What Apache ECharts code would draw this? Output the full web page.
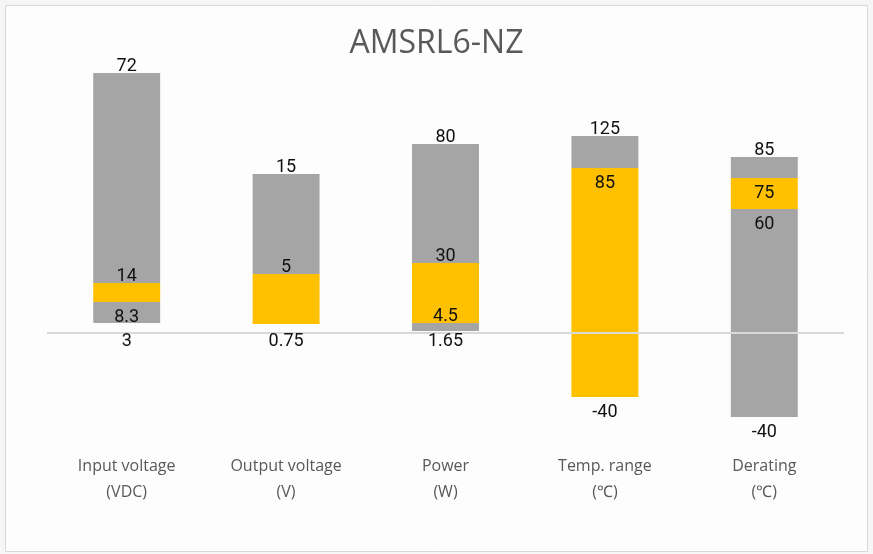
<!DOCTYPE html>
<html>
<head>
<meta charset="utf-8">
<style>
  html, body { margin: 0; padding: 0; background: #f6f6f6; }
  #chart { width: 873px; height: 554px; }
</style>
<script src="https://cdn.jsdelivr.net/npm/echarts@6/dist/echarts.min.js"></script>
</head>
<body>
<div id="chart"></div>
<script>
// categories (two-line axis labels)
const categories = ['Input voltage\n(VDC)', 'Output voltage\n(V)', 'Power\n(W)', 'Temp. range\n(\u2103)', 'Derating\n(\u2103)'];

// plotted bar boundaries (chart units, 0 = baseline), bottom to top
const inputLevels = [10, 31, 50, 260];
const outputLevels = [9, 59, 159];
const powerLevels = [2, 10, 70, 189];
const tempLevels = [-64, 165, 197];
const deratingLevels = [-84, 124, 155, 176];

// segment colours between boundaries: g = gray, y = yellow
const inputSegs = ['g', 'y', 'g'];
const outputSegs = ['y', 'g'];
const powerSegs = ['g', 'y', 'g'];
const tempSegs = ['y', 'g'];
const deratingSegs = ['g', 'y', 'g'];

// values printed at each boundary
const inputValues = [3, 8.3, 14, 72];
const outputValues = [0.75, 5, 15];
const powerValues = [1.65, 4.5, 30, 80];
const tempValues = [-40, 85, 125];
const deratingValues = [-40, 60, 75, 85];

const levels = [inputLevels, outputLevels, powerLevels, tempLevels, deratingLevels];
const segs = [inputSegs, outputSegs, powerSegs, tempSegs, deratingSegs];
const values = [inputValues, outputValues, powerValues, tempValues, deratingValues];

// where each value label sits against its boundary
const sides = [
    ['axis', 'below', 'above', 'above'],
    ['axis', 'above', 'above'],
    ['axis', 'above', 'above', 'above'],
    ['below', 'below', 'above'],
    ['below', 'below', 'below', 'above']
];

const colors = { g: '#a5a5a5', y: '#ffc000' };

// build rect items and label items
const rectData = [];
const labelData = [];
levels.forEach(function (lv, i) {
    segs[i].forEach(function (c, j) {
        rectData.push([i, lv[j], lv[j + 1], c]);
    });
    values[i].forEach(function (v, j) {
        labelData.push([i, lv[j], String(v), sides[i][j]]);
    });
});

const chart = echarts.init(document.getElementById('chart'));

chart.setOption({
    animation: false,
    backgroundColor: '#f6f6f6',
    graphic: [{
        type: 'rect',
        shape: { x: 5.5, y: 5.5, width: 862, height: 546 },
        style: { fill: '#fdfdfd', stroke: '#d9d9d9', lineWidth: 1 },
        z: -10
    }],
    title: {
        text: 'AMSRL6-NZ',
        left: 'center',
        top: 23,
        textStyle: { fontFamily: 'Open Sans', fontSize: 32, fontWeight: 'normal', color: '#595959' }
    },
    grid: { left: 47, right: 29, top: 53, bottom: 121 },
    xAxis: {
        type: 'category',
        data: categories,
        axisLine: { show: false },
        axisTick: { show: false },
        axisLabel: {
            margin: 20,
            fontFamily: 'Open Sans',
            fontSize: 16,
            lineHeight: 26,
            color: '#595959'
        }
    },
    yAxis: {
        type: 'value',
        min: -100,
        max: 280,
        show: false,
        splitLine: { show: false }
    },
    series: [{
        type: 'custom',
        data: rectData,
        encode: { x: 0, y: [1, 2] },
        renderItem: function (params, api) {
            const x = api.value(0);
            const lo = api.coord([x, api.value(1)]);
            const hi = api.coord([x, api.value(2)]);
            const w = api.size([1, 0])[0] * 0.42;
            return {
                type: 'rect',
                shape: { x: lo[0] - w / 2, y: hi[1], width: w, height: lo[1] - hi[1] },
                style: { fill: colors[rectData[params.dataIndex][3]] }
            };
        },
        markLine: {
            silent: true,
            symbol: 'none',
            label: { show: false },
            lineStyle: { color: '#d9d9d9', width: 2, type: 'solid' },
            data: [{ yAxis: 0 }]
        },
        z: 2
    }, {
        type: 'custom',
        data: labelData,
        encode: { x: 0, y: 1 },
        renderItem: function (params, api) {
            const item = labelData[params.dataIndex];
            const p = api.coord([item[0], item[1]]);
            const zero = api.coord([item[0], 0]);
            let y = p[1];
            if (item[3] === 'above') y = p[1] - 7;
            else if (item[3] === 'below') y = p[1] + 15;
            else y = zero[1] + 8;
            return {
                type: 'text',
                style: {
                    text: item[2],
                    x: p[0],
                    y: y,
                    align: 'center',
                    verticalAlign: 'middle',
                    font: '18px Roboto',
                    fill: '#111111'
                }
            };
        },
        z: 5
    }]
});
</script>
</body>
</html>
